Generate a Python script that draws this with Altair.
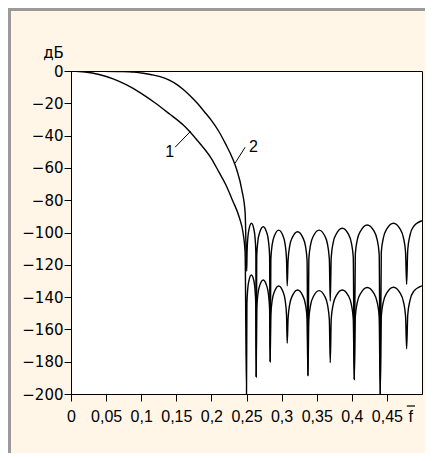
import altair as alt
import pandas as pd

# ---- data ----
curve1_f = [0, 0.02, 0.04, 0.06, 0.08, 0.10, 0.12, 0.14, 0.16, 0.18, 0.20, 0.21, 0.22, 0.23, 0.24, 0.245, 0.248, 0.25,
            0.2506, 0.2517, 0.2535, 0.2569, 0.2604, 0.2621, 0.2632, 0.2638,
            0.2646, 0.2662, 0.2688, 0.2738, 0.2787, 0.2813, 0.2829, 0.2837,
            0.2847, 0.2866, 0.2898, 0.2959, 0.3019, 0.3051, 0.3070, 0.3080,
            0.3092, 0.3115, 0.3154, 0.3228, 0.3301, 0.3340, 0.3363, 0.3375,
            0.3388, 0.3413, 0.3455, 0.3534, 0.3614, 0.3655, 0.3680, 0.3693,
            0.3707, 0.3734, 0.3779, 0.3864, 0.3950, 0.3994, 0.4021, 0.4035,
            0.4050, 0.4079, 0.4128, 0.4220, 0.4313, 0.4361, 0.4390, 0.4405,
            0.4420, 0.4450, 0.4499, 0.4593, 0.4687, 0.4736, 0.4766, 0.4781,
            0.4797, 0.4829, 0.4881, 0.5]
curve1_db = [0, -0.6, -2.2, -4.9, -8.8, -13.8, -19.8, -26.5, -33.5, -43, -54.2, -62, -70, -80, -91, -100, -112, -200,
             -144.3, -135.3, -129.8, -126.3, -129.8, -135.3, -144.3, -189.3,
             -147.4, -138.4, -132.9, -129.4, -132.9, -138.4, -147.4, -180,
             -151.1, -142.1, -136.6, -133.1, -136.6, -142.1, -151.1, -168.6,
             -153.6, -144.6, -139.1, -135.6, -139.1, -144.6, -153.6, -188.6,
             -154, -145, -139.5, -136, -139.5, -145, -154, -180.6,
             -153.6, -144.6, -139.1, -135.6, -139.1, -144.6, -153.6, -191,
             -152.1, -143.1, -137.6, -134.1, -137.6, -143.1, -152.1, -200,
             -151.9, -142.9, -137.4, -133.9, -137.4, -142.9, -151.9, -172,
             -151, -142, -136.5, -133]

curve2_f = [0, 0.04, 0.07, 0.09, 0.103, 0.115, 0.127, 0.14, 0.151, 0.16, 0.17, 0.18, 0.19, 0.2, 0.21, 0.22,
            0.23, 0.236, 0.2434, 0.2481, 0.2503,
            0.2508, 0.2519, 0.2537, 0.2571, 0.2604, 0.2622, 0.2633, 0.2638,
            0.2646, 0.2662, 0.2688, 0.2738, 0.2787, 0.2813, 0.2829, 0.2837,
            0.2847, 0.2866, 0.2898, 0.2959, 0.3019, 0.3051, 0.3070, 0.3080,
            0.3092, 0.3115, 0.3154, 0.3228, 0.3301, 0.3340, 0.3363, 0.3375,
            0.3388, 0.3413, 0.3455, 0.3534, 0.3614, 0.3655, 0.3680, 0.3693,
            0.3707, 0.3734, 0.3779, 0.3864, 0.3950, 0.3994, 0.4021, 0.4035,
            0.4050, 0.4079, 0.4128, 0.4220, 0.4313, 0.4361, 0.4390, 0.4405,
            0.4420, 0.4450, 0.4499, 0.4593, 0.4687, 0.4736, 0.4766, 0.4781,
            0.4797, 0.4829, 0.4881, 0.5]
curve2_db = [0, -0.1, -0.3, -0.7, -1.4, -2.3, -3.5, -5.6, -8.4, -11.5, -15.5, -20, -25.2, -30.6, -37, -45,
             -54, -61, -73.7, -88, -124,
             -112.3, -103.3, -97.8, -94.3, -97.8, -103.3, -112.3, -189.3,
             -114.4, -105.4, -99.9, -96.4, -99.9, -105.4, -114.4, -180,
             -116.5, -107.5, -102, -98.5, -102, -107.5, -116.5, -133,
             -117.5, -108.5, -103, -99.5, -103, -108.5, -117.5, -188.6,
             -116.5, -107.5, -102, -98.5, -102, -107.5, -116.5, -142.4,
             -115.4, -106.4, -100.9, -97.4, -100.9, -106.4, -115.4, -191,
             -113.4, -104.4, -98.9, -95.4, -98.9, -104.4, -113.4, -200,
             -112.3, -103.3, -97.8, -94.3, -97.8, -103.3, -112.3, -132,
             -110.7, -101.7, -96.2, -92.7]

x_ticks = [0, 0.05, 0.1, 0.15, 0.2, 0.25, 0.3, 0.35, 0.4, 0.45]
y_ticks = [-200, -180, -160, -140, -120, -100, -80, -60, -40, -20, 0]

label_names = ["1", "2"]
label_f = [0.1407, 0.2599]
label_db = [-50, -46.9]
leader_f = [0.1483, 0.2481]
leader_db = [-47.2, -47.2]
leader_f2 = [0.1707, 0.2338]
leader_db2 = [-37.2, -57.0]

FONT = "Liberation Sans"
YFONT = "DejaVu Sans"
CREAM = "#FFF6E8"

df = pd.concat([
    pd.DataFrame({"f": curve1_f, "db": curve1_db, "curve": "1"}),
    pd.DataFrame({"f": curve2_f, "db": curve2_db, "curve": "2"}),
])
lab = pd.DataFrame({"name": label_names, "f": label_f, "db": label_db})
lead = pd.DataFrame({"f": leader_f, "db": leader_db, "f2": leader_f2, "db2": leader_db2})

xs = alt.Scale(domain=[0, 0.5], nice=False, zero=False)
ys = alt.Scale(domain=[-200, 0], nice=False)

x_axis = alt.Axis(values=x_ticks, title=None, grid=False, tickSize=7, labelPadding=7,
                  labelExpr="replace(format(datum.value, '.2~f'), '.', ',')",
                  labelFont=FONT, labelFontSize=16, labelColor="black", labelOverlap=False,
                  tickColor="black", domainColor="black", labelFlush=False)
y_axis = alt.Axis(values=y_ticks, title="дБ", titleAngle=0, titleX=-18, titleY=-14,
                  titleAlign="center", titleBaseline="alphabetic", titleFont=YFONT,
                  titleFontSize=15, titleFontWeight="normal", titleColor="black",
                  grid=False, tickSize=7, labelPadding=1, labelOverlap=False,
                  labelExpr="datum.value == 0 ? '0' : '\u2212' + abs(datum.value)",
                  labelFont=YFONT, labelFontSize=15, labelColor="black",
                  tickColor="black", domainColor="black")

X = lambda field: alt.X(field, scale=xs, axis=x_axis)
Y = lambda field: alt.Y(field, scale=ys, axis=y_axis)

lines = alt.Chart(df).mark_line(color="black", strokeWidth=1.4, interpolate="monotone", clip=True).encode(
    x=X("f:Q"), y=Y("db:Q"), detail="curve:N",
)

leaders = alt.Chart(lead).mark_rule(color="black", strokeWidth=1).encode(
    x=X("f:Q"), y=Y("db:Q"), x2="f2:Q", y2="db2:Q",
)

labels = alt.Chart(lab).mark_text(font=FONT, fontSize=16, color="black", align="center", baseline="middle").encode(
    x=X("f:Q"), y=Y("db:Q"), text="name:N",
)

fbar = alt.Chart(pd.DataFrame({"t": ["f"]})).mark_text(font=FONT, fontSize=16, color="black",
                                                        align="center", baseline="alphabetic").encode(
    x=alt.value(339.8), y=alt.value(351), text="t:N")
fbar_line = alt.Chart(pd.DataFrame({"t": ["bar"]})).mark_rule(color="black", strokeWidth=1.2).encode(
    x=alt.value(335.8), x2=alt.value(344), y=alt.value(335))

frame_left = alt.Chart(pd.DataFrame({"t": ["l"]})).mark_rule(color="#9a9a9a", strokeWidth=3).encode(
    x=alt.value(-61.5), y=alt.value(-63), y2=alt.value(390))
frame_top = alt.Chart(pd.DataFrame({"t": ["t"]})).mark_rule(color="#9a9a9a", strokeWidth=3).encode(
    y=alt.value(-61.5), x=alt.value(-63), x2=alt.value(362))

chart = alt.layer(lines, leaders, labels, frame_left, frame_top, fbar, fbar_line).properties(
    width=351, height=323,
    padding={"left": 63, "top": 63, "right": 3, "bottom": 59},
    autosize=alt.AutoSizeParams(type="none"),
    background=CREAM,
).configure_view(fill="white", stroke="black", strokeWidth=1)

chart.save("out.html", embed_options={"renderer": "svg", "actions": False})
